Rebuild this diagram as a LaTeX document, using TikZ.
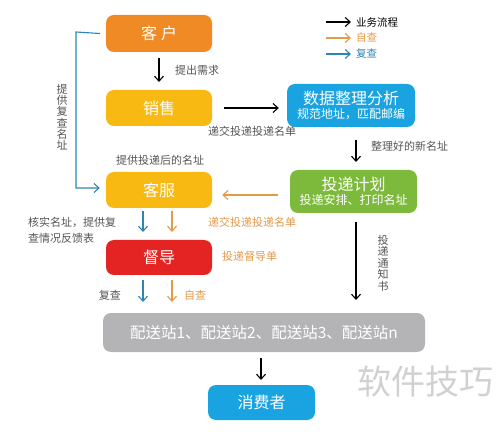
\documentclass[tikz,border=0pt]{standalone}
\usepackage{fontspec}
\setmainfont{Noto Sans CJK SC}
\usetikzlibrary{arrows.meta}
\definecolor{corange}{HTML}{F08A24}
\definecolor{cyellow}{HTML}{F8B912}
\definecolor{cblue}{HTML}{1AA3E1}
\definecolor{cgreen}{HTML}{7DBA3C}
\definecolor{cred}{HTML}{E42422}
\definecolor{cgray}{HTML}{B4B4B6}
\definecolor{lblue}{HTML}{2E86B0}
\definecolor{lorange}{HTML}{E39A4A}
\definecolor{ltext}{HTML}{555555}
\tikzset{
  box/.style={rounded corners=8pt, inner sep=0pt, text=white, font=\fontsize{16}{18}\selectfont, align=center},
  lab/.style={font=\fontsize{11}{13}\selectfont, text=ltext, inner sep=1pt},
  olab/.style={lab, text=lorange},
  flow/.style={-{Straight Barb[length=5pt,width=9pt]}, line width=1.1pt, black},
  bflow/.style={flow, lblue},
  oflow/.style={flow, lorange},
}
\begin{document}
\begin{tikzpicture}[x=1pt,y=-1pt]
\useasboundingbox[fill=white] (0,0) rectangle (500,435);
% boxes
\node[box, fill=corange, minimum width=106pt, minimum height=37pt] (kehu) at (159,33.5) {客\hspace{4pt}户};
\node[box, fill=cyellow, minimum width=106pt, minimum height=36pt] (xiaoshou) at (159,108) {销售};
\node[box, fill=cblue, minimum width=128pt, minimum height=43pt] (shuju) at (351,105.5) {数据整理分析\\[-4pt]{\fontsize{12}{13}\selectfont 规范地址，匹配邮编}};
\node[box, fill=cgreen, minimum width=127pt, minimum height=43pt] (toudi) at (353.5,191.5) {投递计划\\[-4pt]{\fontsize{12}{13}\selectfont 投递安排、打印名址}};
\node[box, fill=cyellow, minimum width=106pt, minimum height=36pt] (kefu) at (159,190) {客服};
\node[box, fill=cred, minimum width=106pt, minimum height=35pt] (duda) at (159,257.5) {督导};
\node[box, fill=cgray, minimum width=322pt, minimum height=39pt, font=\fontsize{15.5}{17}\selectfont] (peisong) at (264,332.5) {配送站1、配送站2、配送站3、配送站n};
\node[box, fill=cblue, minimum width=107pt, minimum height=35pt] (xiaofei) at (261.5,402.5) {消费者};
% coordinates
\coordinate (a1) at (159,58);
\coordinate (a2) at (159,82);
\coordinate (b1) at (356,140);
\coordinate (b2) at (356,162);
\coordinate (c1) at (356,222);
\coordinate (c2) at (356,300);
\coordinate (d1) at (261,358);
\coordinate (d2) at (261,380);
\coordinate (lk) at (76,32);
\coordinate (lb) at (76,188);
% arrows
\draw[flow] (a1) -- (a2);
\draw[flow] ([xshift=12pt]xiaoshou.east) -- ([xshift=-8pt]shuju.west |- xiaoshou.east);
\draw[flow] (b1) -- (b2);
\draw[oflow] ([xshift=-12pt]toudi.west |- 0,195) -- ([xshift=10pt]kefu.east |- 0,195);
\draw[bflow] ([xshift=-6pt]kehu.west) -- (lk) -- (lb) -- ([xshift=-6pt]kefu.west |- lb);
\draw[bflow] (143,211) -- (143,232);
\draw[oflow] (172,211) -- (172,232);
\draw[bflow] (143,280) -- (143,302);
\draw[oflow] (172,280) -- (172,302);
\draw[flow] (c1) -- (c2);
\draw[flow] (d1) -- (d2);
% labels
\node[lab, anchor=west] (l1) at (174,70) {提出需求};
\node[lab] (l2) at (252,131) {递交投递投递名单};
\node[lab, anchor=west] (l3) at (370,146) {整理好的新名址};
\node[lab] (l4) at (160,160) {提供投递后的名址};
\node[olab] (l5) at (252,222) {递交投递投递名单};
\node[lab, align=left, anchor=west, font=\fontsize{11}{16}\selectfont] (l6) at (27,230) {核实名址，提供复\\查情况反馈表};
\node[olab, anchor=west] (l7) at (221,256) {投递督导单};
\node[lab, anchor=east] (l8) at (122,295) {复查};
\node[olab, anchor=west] (l9) at (183,295) {自查};
\node[lab, align=center, font=\fontsize{11}{11.3}\selectfont] (l10) at (62,117) {提\\供\\复\\查\\名\\址};
\node[lab, align=center, font=\fontsize{11}{11.5}\selectfont] (l11) at (383,263) {投\\递\\通\\知\\书};
% legend
\coordinate (g1a) at (326,22); \coordinate (g1b) at (351,22);
\coordinate (g2a) at (326,38); \coordinate (g2b) at (351,38);
\coordinate (g3a) at (326,54); \coordinate (g3b) at (351,54);
\draw[flow] (g1a) -- (g1b);
\draw[oflow] (g2a) -- (g2b);
\draw[bflow] (g3a) -- (g3b);
\node[lab, text=black, anchor=west, font=\fontsize{10.5}{12}\selectfont] (t1) at (355,22) {业务流程};
\node[olab, anchor=west, font=\fontsize{10.5}{12}\selectfont] (t2) at (355,38) {自查};
\node[lab, text=lblue, anchor=west, font=\fontsize{10.5}{12}\selectfont] (t3) at (355,54) {复查};
% watermark
\node[text=black!18, font=\fontsize{34}{36}\selectfont, inner sep=0pt] (wm) at (425,382) {软件技巧};
\end{tikzpicture}
\end{document}
